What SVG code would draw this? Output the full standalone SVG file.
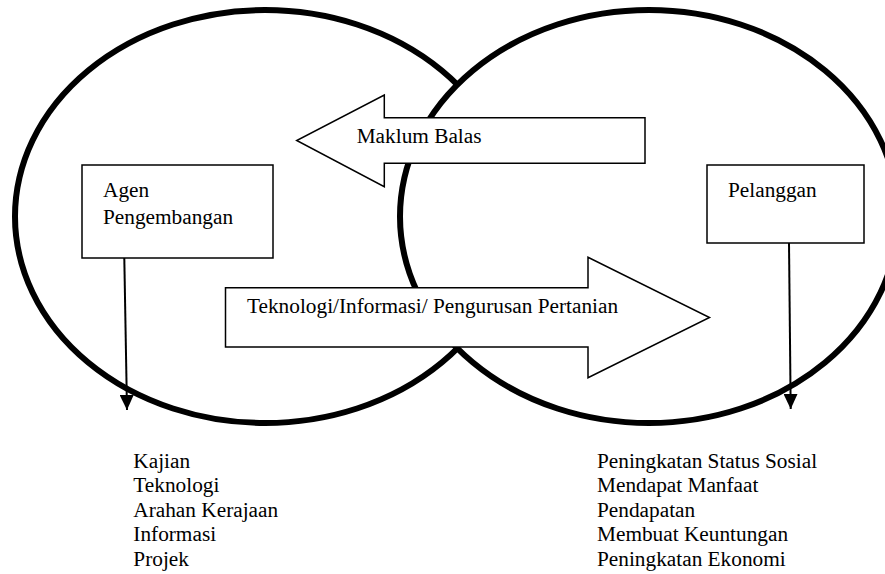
<svg xmlns="http://www.w3.org/2000/svg" width="885" height="574" viewBox="0 0 885 574">
<style>
  .circle { stroke: #000; stroke-width: 6; }
  .box { fill: #fff; stroke: #000; stroke-width: 1.5; }
  .block { fill: #fff; stroke: #000; stroke-width: 1.5; stroke-linejoin: miter; }
  .conn { fill: none; stroke: #000; stroke-width: 2; }
  text { font-family: "Liberation Serif", "Times New Roman", serif; font-size: 21.3px; fill: #000; }
</style>
<defs>
  <marker id="arrowhead" markerUnits="userSpaceOnUse" markerWidth="15" markerHeight="14" refX="15" refY="7" orient="auto">
    <path d="M0,0 L15,7 L0,14 z" fill="#000"/>
  </marker>
</defs>
<rect width="885" height="574" fill="#fff"/>
<g id="circles">
  <ellipse id="circle-left" class="circle" cx="265" cy="216.5" rx="250" ry="206.5" fill="#fff"/>
  <ellipse id="circle-right" class="circle" cx="649" cy="216.5" rx="249" ry="206.5" fill="#fff"/>
</g>
<g id="agen-pengembangan">
  <rect class="box" x="82" y="165" width="191" height="93"/>
  <text x="103" y="197">Agen</text>
  <text x="103" y="224">Pengembangan</text>
</g>
<g id="pelanggan">
  <rect class="box" x="707" y="165" width="157" height="78"/>
  <text x="728" y="197">Pelanggan</text>
</g>
<g id="maklum-balas">
  <polygon class="block" points="645,117.7 384.3,117.7 384.3,95 296.7,140.5 384.3,186.7 384.3,163.3 645,163.3"/>
  <text x="356.7" y="142.7">Maklum Balas</text>
</g>
<g id="teknologi-informasi">
  <polygon class="block" points="225.5,287.7 588,287.7 588,257.3 709.5,317.5 588,377.7 588,347 225.5,347"/>
  <text x="247" y="313">Teknologi/Informasi/ Pengurusan Pertanian</text>
</g>
<g id="connectors">
  <line class="conn" x1="124.3" y1="258" x2="127" y2="410" marker-end="url(#arrowhead)"/>
  <line class="conn" x1="789" y1="243" x2="790.7" y2="409" marker-end="url(#arrowhead)"/>
</g>
<g id="list-agen">
  <text x="133.3" y="467.5">Kajian</text>
  <text x="133.3" y="492">Teknologi</text>
  <text x="133.3" y="516.5">Arahan Kerajaan</text>
  <text x="133.3" y="541">Informasi</text>
  <text x="133.3" y="565.5">Projek</text>
</g>
<g id="list-pelanggan">
  <text x="597" y="467.5">Peningkatan Status Sosial</text>
  <text x="597" y="492">Mendapat Manfaat</text>
  <text x="597" y="516.5">Pendapatan</text>
  <text x="597" y="541">Membuat Keuntungan</text>
  <text x="597" y="565.5">Peningkatan Ekonomi</text>
</g>
</svg>
